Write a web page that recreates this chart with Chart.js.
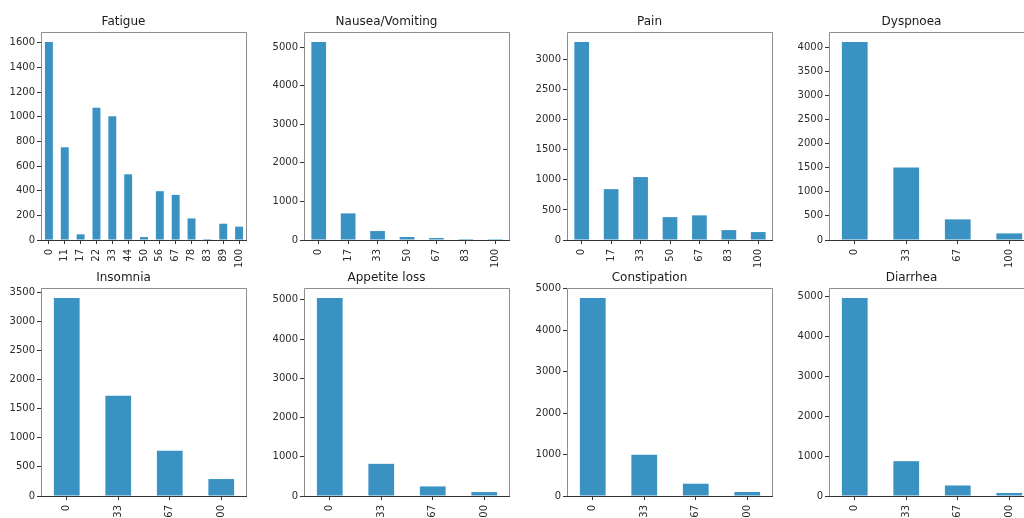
<!DOCTYPE html>
<html>
<head>
<meta charset="utf-8">
<script src="https://cdn.jsdelivr.net/npm/chart.js@4/dist/chart.umd.min.js"></script>
<style>
  html, body { margin: 0; padding: 0; background: #fff; }
  body { width: 1024px; height: 518px; overflow: hidden; position: relative; }
  canvas.panel { position: absolute; }
</style>
</head>
<body>
<script>
// Symptom score levels (category labels) and patient counts per level
const fatigueLevels = ['0', '11', '17', '22', '33', '44', '50', '56', '67', '78', '83', '89', '100'];
const fatigueCounts = [1607, 752, 46, 1072, 1003, 533, 24, 396, 366, 175, 8, 132, 108];

const sixthLevels = ['0', '17', '33', '50', '67', '83', '100'];
const nauseaCounts = [5135, 690, 232, 78, 52, 25, 24];
const painCounts = [3295, 846, 1047, 381, 410, 165, 132];

const thirdLevels = ['0', '33', '67', '100'];
const dyspnoeaCounts = [4110, 1503, 428, 137];
const insomniaCounts = [3400, 1721, 775, 291];
const appetiteCounts = [5050, 820, 244, 100];
const constipationCounts = [4775, 993, 296, 96];
const diarrheaCounts = [4960, 872, 264, 75];

// Y tick spacing for each panel
const fatigueStep = 200;
const nauseaStep = 1000;
const painStep = 500;
const dyspnoeaStep = 500;
const insomniaStep = 500;
const appetiteStep = 1000;
const constipationStep = 1000;
const diarrheaStep = 1000;

const panels = [
  { title: 'Fatigue',         labels: fatigueLevels, values: fatigueCounts,      step: fatigueStep,      col: 0, row: 0 },
  { title: 'Nausea/Vomiting', labels: sixthLevels,   values: nauseaCounts,       step: nauseaStep,       col: 1, row: 0 },
  { title: 'Pain',            labels: sixthLevels,   values: painCounts,         step: painStep,         col: 2, row: 0 },
  { title: 'Dyspnoea',        labels: thirdLevels,   values: dyspnoeaCounts,     step: dyspnoeaStep,     col: 3, row: 0 },
  { title: 'Insomnia',        labels: thirdLevels,   values: insomniaCounts,     step: insomniaStep,     col: 0, row: 1 },
  { title: 'Appetite loss',   labels: thirdLevels,   values: appetiteCounts,     step: appetiteStep,     col: 1, row: 1 },
  { title: 'Constipation',    labels: thirdLevels,   values: constipationCounts, step: constipationStep, col: 2, row: 1 },
  { title: 'Diarrhea',        labels: thirdLevels,   values: diarrheaCounts,     step: diarrheaStep,     col: 3, row: 1 }
];

// Grid geometry
const AX_W = 206, AX_H = 208;
const Y_W = 41, TITLE_H = 20, X_H = 45, PAD_R = 4;
const colLeft = [41, 304, 567, 829];
const rowTop = [32, 288];

const FONT = "'DejaVu Sans', 'Liberation Sans', sans-serif";
const BAR = '#3a92c3';
const TEXT = '#2b2b2b';

// Axes frame: light sides, darker baseline
const framePlugin = {
  id: 'frame',
  afterDraw(chart) {
    const { ctx, chartArea: a } = chart;
    ctx.save();
    ctx.lineWidth = 1;
    ctx.strokeStyle = '#8c8c8c';
    ctx.beginPath();
    ctx.moveTo(a.left + 0.5, a.bottom);
    ctx.lineTo(a.left + 0.5, a.top + 0.5);
    ctx.lineTo(a.right - 0.5, a.top + 0.5);
    ctx.lineTo(a.right - 0.5, a.bottom);
    ctx.stroke();
    ctx.strokeStyle = '#333333';
    ctx.beginPath();
    ctx.moveTo(a.left, a.bottom + 0.5);
    ctx.lineTo(a.right, a.bottom + 0.5);
    ctx.stroke();
    ctx.restore();
  }
};

panels.forEach(p => {
  const cv = document.createElement('canvas');
  cv.className = 'panel';
  const w = Y_W + AX_W + PAD_R;
  const h = TITLE_H + AX_H + X_H;
  cv.width = w; cv.height = h;
  cv.style.width = w + 'px';
  cv.style.height = h + 'px';
  cv.style.left = (colLeft[p.col] - Y_W) + 'px';
  cv.style.top = (rowTop[p.row] - TITLE_H) + 'px';
  document.body.appendChild(cv);

  const yMax = Math.max(...p.values) * 1.05;

  new Chart(cv, {
    type: 'bar',
    data: {
      labels: p.labels,
      datasets: [{
        data: p.values,
        backgroundColor: BAR,
        borderWidth: 0,
        barPercentage: 0.5,
        categoryPercentage: 1.0
      }]
    },
    options: {
      responsive: false,
      animation: false,
      devicePixelRatio: 1,
      layout: { padding: { left: 0, right: PAD_R, top: 0, bottom: 0 } },
      plugins: {
        legend: { display: false },
        tooltip: { enabled: false },
        title: {
          display: true,
          text: p.title,
          color: '#1a1a1a',
          font: { family: FONT, size: 12, weight: 'normal', lineHeight: 1.25 },
          padding: { top: 2, bottom: 3 }
        }
      },
      scales: {
        x: {
          type: 'category',
          offset: true,
          border: { display: false },
          grid: { display: true, offset: false, drawOnChartArea: false, drawTicks: true, tickLength: 4, color: '#333', lineWidth: 1 },
          ticks: { minRotation: 90, maxRotation: 90, autoSkip: false, padding: 5, color: TEXT, font: { family: FONT, size: 10 } },
          afterFit(s) { s.height = X_H; s.paddingLeft = 0; s.paddingRight = 0; }
        },
        y: {
          min: 0,
          max: yMax,
          border: { display: false },
          grid: { display: true, drawOnChartArea: false, drawTicks: true, tickLength: 4, color: '#333', lineWidth: 1 },
          ticks: {
            autoSkip: false,
            padding: 2,
            color: TEXT,
            font: { family: FONT, size: 10 },
            callback: v => String(v)
          },
          // ticks at whole multiples of the panel's step, up to the axis top
          afterBuildTicks(s) {
            const t = [];
            for (let v = 0; v <= yMax; v += p.step) t.push({ value: v });
            s.ticks = t;
          },
          afterFit(s) { s.width = Y_W; s.paddingTop = 0; s.paddingBottom = 0; }
        }
      }
    },
    plugins: [framePlugin]
  });
});
</script>
</body>
</html>
